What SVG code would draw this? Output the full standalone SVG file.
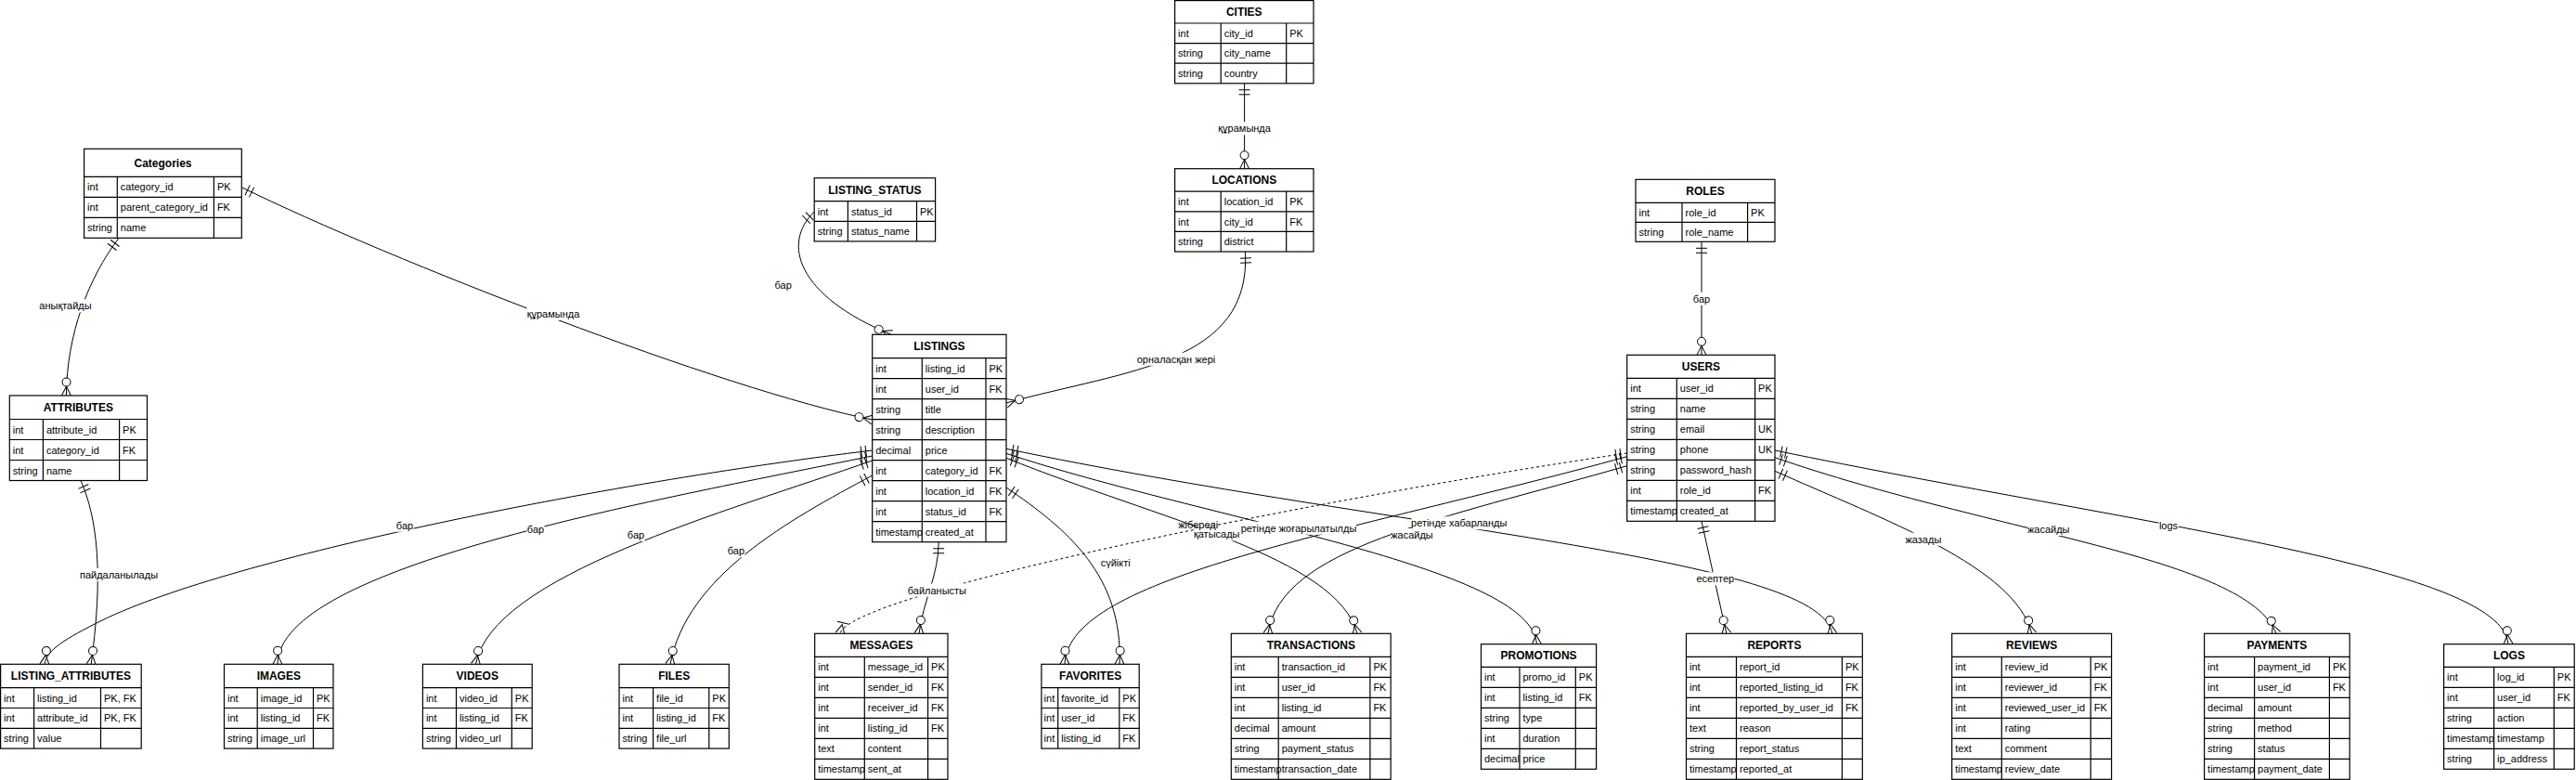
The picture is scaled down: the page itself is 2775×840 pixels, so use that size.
<svg xmlns="http://www.w3.org/2000/svg" width="2775" height="840" viewBox="0 0 2775 840">
<style>
.box{fill:#fff;stroke:#000;stroke-width:1.2}
.grid{fill:none;stroke:#000;stroke-width:1.2}
.hd{font-family:"Liberation Sans",Arial,sans-serif;font-size:12px;font-weight:bold;text-anchor:middle;fill:#000}
.c{font-family:"Liberation Sans",Arial,sans-serif;font-size:11px;fill:#000}
.ln{fill:none;stroke:#000;stroke-width:1;marker-start:url(#m1);marker-end:url(#mz)}
.dash{stroke-dasharray:3 3;marker-end:url(#mo)}
.lb{font-family:"Liberation Sans",Arial,sans-serif;font-size:11px;text-anchor:middle;fill:#000}
.bg{fill:#fff}
</style>
<defs>
<marker id="m1" markerUnits="userSpaceOnUse" markerWidth="30" markerHeight="30" refX="0" refY="0" orient="auto-start-reverse" overflow="visible"><path d="M-7,-6V6M-12,-6V6" fill="none" stroke="#000" stroke-width="1"/></marker>
<marker id="mz" markerUnits="userSpaceOnUse" markerWidth="30" markerHeight="30" refX="0" refY="0" orient="auto-start-reverse" overflow="visible"><path d="M0,-5L-10,0L0,5" fill="none" stroke="#000" stroke-width="1"/><circle cx="-14.5" cy="0" r="4.5" fill="#fff" stroke="#000" stroke-width="1"/></marker>
<marker id="mo" markerUnits="userSpaceOnUse" markerWidth="30" markerHeight="30" refX="0" refY="0" orient="auto-start-reverse" overflow="visible"><path d="M0,-5L-10,0L0,5M-12,-6V6" fill="none" stroke="#000" stroke-width="1"/></marker>
</defs>
<rect x="0" y="0" width="2775" height="840" fill="#fff"/>
<g id="connectors">
<path id="e1" class="ln" d="M128,256.3C95,300 72,360 71.4,426"/>
<path id="e2" class="ln" d="M260.3,201.7C420,280 780,420 939.7,452"/>
<path id="e3" class="ln" d="M877.2,228C842,262 858,318 960,360.3"/>
<path id="e4" class="ln" d="M1340.6,89.8V181.7"/>
<path id="e5" class="ln" d="M1341.5,271C1348,392 1215,398 1084,434"/>
<path id="e6" class="ln" d="M1833,260.3V382.3"/>
<path id="e7" class="ln" d="M87,517.5C115,580 104,670 98.2,715.3"/>
<path id="e8" class="ln" d="M939.7,485C650,520 250,600 110,668C70,688 50,700 48,715.3"/>
<path id="e9" class="ln" d="M939.7,491C700,540 300,610 299,715.3"/>
<path id="e10" class="ln" d="M939.7,496C780,552 530,620 512.5,715.3"/>
<path id="e11" class="ln" d="M939.7,512C850,560 740,620 722,715.3"/>
<path id="e12" class="ln" d="M1011.2,583.7C1011,620 995,645 990,682.3"/>
<path id="e13" class="ln dash" d="M1752.7,488C1400,540 915,640 905,682.3"/>
<path id="e14" class="ln" d="M1084,525C1150,570 1210,620 1206,715.3"/>
<path id="e15" class="ln" d="M1752.7,491.7C1450,575 1150,620 1147,715.3"/>
<path id="e16" class="ln" d="M1752.7,501.7C1550,560 1380,590 1366,682.3"/>
<path id="e17" class="ln" d="M1084,493.3C1250,560 1440,600 1462,682.3"/>
<path id="e18" class="ln" d="M1084,488.3C1300,560 1650,610 1655.4,693.7"/>
<path id="e19" class="ln" d="M1084,483.3C1500,570 1960,600 1973.7,682.3"/>
<path id="e20" class="ln" d="M1833,561.3L1859.8,682.3"/>
<path id="e21" class="ln" d="M1912,507.3C2030,560 2170,610 2188.8,682.3"/>
<path id="e22" class="ln" d="M1912,492.7C2150,575 2420,600 2452,682.3"/>
<path id="e23" class="ln" d="M1912,485C2300,565 2695,610 2702,693.7"/>
</g>
<g id="labels">
<rect class="bg" x="42" y="322.3" width="57" height="14"/><text class="lb" x="70.5" y="333.3">анықтайды</text>
<rect class="bg" x="567.5" y="331" width="57" height="14"/><text class="lb" x="596" y="342">құрамында</text>
<rect class="bg" x="834" y="299.7" width="19" height="14"/><text class="lb" x="843.7" y="310.7">бар</text>
<rect class="bg" x="1312" y="131.3" width="57" height="14"/><text class="lb" x="1340.6" y="142.3">құрамында</text>
<rect class="bg" x="1224" y="379.7" width="86" height="14"/><text class="lb" x="1267" y="390.7">орналасқан жері</text>
<rect class="bg" x="1823.5" y="314.7" width="19" height="14"/><text class="lb" x="1833" y="325.7">бар</text>
<rect class="bg" x="86" y="612" width="84" height="14"/><text class="lb" x="128" y="623">пайдаланылады</text>
<rect class="bg" x="426.5" y="558.7" width="19" height="14"/><text class="lb" x="436" y="569.7">бар</text>
<rect class="bg" x="567.5" y="562.7" width="19" height="14"/><text class="lb" x="577" y="573.7">бар</text>
<rect class="bg" x="675.5" y="569" width="19" height="14"/><text class="lb" x="685" y="580">бар</text>
<rect class="bg" x="783.4" y="586.3" width="19" height="14"/><text class="lb" x="792.9" y="597.3">бар</text>
<rect class="bg" x="977.5" y="628.5" width="64" height="14"/><text class="lb" x="1009.4" y="639.5">байланысты</text>
<rect class="bg" x="1286" y="568.3" width="50" height="14"/><text class="lb" x="1310.7" y="579.3">қатысады</text>
<rect class="bg" x="1337" y="561.7" width="124" height="14"/><text class="lb" x="1399" y="572.7">ретінде жоғарылатылды</text>
<rect class="bg" x="1185.5" y="598.7" width="33" height="14"/><text class="lb" x="1201.7" y="609.7">сүйікті</text>
<rect class="bg" x="1520.5" y="556.3" width="103" height="14"/><text class="lb" x="1571.7" y="567.3">ретінде хабарланды</text>
<rect class="bg" x="1498.5" y="569" width="45" height="14"/><text class="lb" x="1521" y="580">жасайды</text>
<rect class="bg" x="1827.5" y="616.3" width="41" height="14"/><text class="lb" x="1847.8" y="627.3">есептер</text>
<rect class="bg" x="2052" y="573.7" width="40" height="14"/><text class="lb" x="2071.9" y="584.7">жазады</text>
<rect class="bg" x="2184.2" y="563" width="45" height="14"/><text class="lb" x="2206.7" y="574">жасайды</text>
<rect class="bg" x="2325.5" y="558.7" width="21" height="14"/><text class="lb" x="2336" y="569.7">logs</text>
<text class="lb" x="1290.7" y="569">жібереді</text>
</g>
<g id="categories">
<rect class="box" x="90.6" y="160.3" width="169.7" height="96"/>
<path class="grid" d="M90.6,190.3H260.3M90.6,212.3H260.3M90.6,234.3H260.3M126.3,190.3V256.3M230.4,190.3V256.3"/>
<text class="hd" x="175.5" y="179.6">Categories</text>
<text class="c" x="94.1" y="205.3">int</text><text class="c" x="129.8" y="205.3">category_id</text><text class="c" x="233.9" y="205.3">PK</text>
<text class="c" x="94.1" y="227.3">int</text><text class="c" x="129.8" y="227.3">parent_category_id</text><text class="c" x="233.9" y="227.3">FK</text>
<text class="c" x="94.1" y="249.3">string</text><text class="c" x="129.8" y="249.3">name</text>
</g>
<g id="listing_status">
<rect class="box" x="877.2" y="191.7" width="130.4" height="68.2"/>
<path class="grid" d="M877.2,216.7H1007.6M877.2,238.3H1007.6M913.4,216.7V259.9M987.5,216.7V259.9"/>
<text class="hd" x="942.4" y="208.5">LISTING_STATUS</text>
<text class="c" x="880.7" y="231.5">int</text><text class="c" x="916.9" y="231.5">status_id</text><text class="c" x="991" y="231.5">PK</text>
<text class="c" x="880.7" y="253.1">string</text><text class="c" x="916.9" y="253.1">status_name</text>
</g>
<g id="cities">
<rect class="box" x="1265.6" y="0.6" width="149.4" height="89.2"/>
<path class="grid" d="M1265.6,25H1415M1265.6,46.6H1415M1265.6,68.2H1415M1315.2,25V89.8M1385.7,25V89.8"/>
<text class="hd" x="1340.3" y="17">CITIES</text>
<text class="c" x="1269.1" y="39.8">int</text><text class="c" x="1318.7" y="39.8">city_id</text><text class="c" x="1389.2" y="39.8">PK</text>
<text class="c" x="1269.1" y="61.4">string</text><text class="c" x="1318.7" y="61.4">city_name</text>
<text class="c" x="1269.1" y="83">string</text><text class="c" x="1318.7" y="83">country</text>
</g>
<g id="locations">
<rect class="box" x="1265.6" y="181.7" width="149.4" height="89.3"/>
<path class="grid" d="M1265.6,206.2H1415M1265.6,227.8H1415M1265.6,249.4H1415M1315.2,206.2V271M1385.7,206.2V271"/>
<text class="hd" x="1340.3" y="198.2">LOCATIONS</text>
<text class="c" x="1269.1" y="221">int</text><text class="c" x="1318.7" y="221">location_id</text><text class="c" x="1389.2" y="221">PK</text>
<text class="c" x="1269.1" y="242.6">int</text><text class="c" x="1318.7" y="242.6">city_id</text><text class="c" x="1389.2" y="242.6">FK</text>
<text class="c" x="1269.1" y="264.2">string</text><text class="c" x="1318.7" y="264.2">district</text>
</g>
<g id="roles">
<rect class="box" x="1762" y="193.3" width="150" height="67"/>
<path class="grid" d="M1762,218.3H1912M1762,239.3H1912M1812,218.3V260.3M1882.6,218.3V260.3"/>
<text class="hd" x="1837" y="210.1">ROLES</text>
<text class="c" x="1765.5" y="232.8">int</text><text class="c" x="1815.5" y="232.8">role_id</text><text class="c" x="1886.1" y="232.8">PK</text>
<text class="c" x="1765.5" y="253.8">string</text><text class="c" x="1815.5" y="253.8">role_name</text>
</g>
<g id="users">
<rect class="box" x="1752.7" y="382.3" width="159.3" height="179"/>
<path class="grid" d="M1752.7,407.3H1912M1752.7,429.3H1912M1752.7,451.3H1912M1752.7,473.3H1912M1752.7,495.3H1912M1752.7,517.3H1912M1752.7,539.3H1912M1806.3,407.3V561.3M1890.6,407.3V561.3"/>
<text class="hd" x="1832.4" y="399.1">USERS</text>
<text class="c" x="1756.2" y="422.3">int</text><text class="c" x="1809.8" y="422.3">user_id</text><text class="c" x="1894.1" y="422.3">PK</text>
<text class="c" x="1756.2" y="444.3">string</text><text class="c" x="1809.8" y="444.3">name</text>
<text class="c" x="1756.2" y="466.3">string</text><text class="c" x="1809.8" y="466.3">email</text><text class="c" x="1894.1" y="466.3">UK</text>
<text class="c" x="1756.2" y="488.3">string</text><text class="c" x="1809.8" y="488.3">phone</text><text class="c" x="1894.1" y="488.3">UK</text>
<text class="c" x="1756.2" y="510.3">string</text><text class="c" x="1809.8" y="510.3">password_hash</text>
<text class="c" x="1756.2" y="532.3">int</text><text class="c" x="1809.8" y="532.3">role_id</text><text class="c" x="1894.1" y="532.3">FK</text>
<text class="c" x="1756.2" y="554.3">timestamp</text><text class="c" x="1809.8" y="554.3">created_at</text>
</g>
<g id="listings">
<rect class="box" x="939.7" y="360.3" width="144.3" height="223.4"/>
<path class="grid" d="M939.7,385.7H1084M939.7,407.7H1084M939.7,429.7H1084M939.7,451.7H1084M939.7,473.7H1084M939.7,495.7H1084M939.7,517.7H1084M939.7,539.7H1084M939.7,561.7H1084M993.3,385.7V583.7M1062,385.7V583.7"/>
<text class="hd" x="1011.9" y="377.3">LISTINGS</text>
<text class="c" x="943.2" y="400.7">int</text><text class="c" x="996.8" y="400.7">listing_id</text><text class="c" x="1065.5" y="400.7">PK</text>
<text class="c" x="943.2" y="422.7">int</text><text class="c" x="996.8" y="422.7">user_id</text><text class="c" x="1065.5" y="422.7">FK</text>
<text class="c" x="943.2" y="444.7">string</text><text class="c" x="996.8" y="444.7">title</text>
<text class="c" x="943.2" y="466.7">string</text><text class="c" x="996.8" y="466.7">description</text>
<text class="c" x="943.2" y="488.7">decimal</text><text class="c" x="996.8" y="488.7">price</text>
<text class="c" x="943.2" y="510.7">int</text><text class="c" x="996.8" y="510.7">category_id</text><text class="c" x="1065.5" y="510.7">FK</text>
<text class="c" x="943.2" y="532.7">int</text><text class="c" x="996.8" y="532.7">location_id</text><text class="c" x="1065.5" y="532.7">FK</text>
<text class="c" x="943.2" y="554.7">int</text><text class="c" x="996.8" y="554.7">status_id</text><text class="c" x="1065.5" y="554.7">FK</text>
<text class="c" x="943.2" y="576.7">timestamp</text><text class="c" x="996.8" y="576.7">created_at</text>
</g>
<g id="attributes">
<rect class="box" x="10.3" y="426" width="148.2" height="91.5"/>
<path class="grid" d="M10.3,451.5H158.5M10.3,473.5H158.5M10.3,495.5H158.5M46.4,451.5V517.5M128.6,451.5V517.5"/>
<text class="hd" x="84.4" y="443">ATTRIBUTES</text>
<text class="c" x="13.8" y="466.5">int</text><text class="c" x="49.9" y="466.5">attribute_id</text><text class="c" x="132.1" y="466.5">PK</text>
<text class="c" x="13.8" y="488.5">int</text><text class="c" x="49.9" y="488.5">category_id</text><text class="c" x="132.1" y="488.5">FK</text>
<text class="c" x="13.8" y="510.5">string</text><text class="c" x="49.9" y="510.5">name</text>
</g>
<g id="listing_attributes">
<rect class="box" x="0.6" y="715.3" width="151.6" height="90.8"/>
<path class="grid" d="M0.6,740.7H152.2M0.6,762.5H152.2M0.6,784.3H152.2M36.6,740.7V806.1M108.5,740.7V806.1"/>
<text class="hd" x="76.4" y="732.3">LISTING_ATTRIBUTES</text>
<text class="c" x="4.1" y="755.6">int</text><text class="c" x="40.1" y="755.6">listing_id</text><text class="c" x="112" y="755.6">PK, FK</text>
<text class="c" x="4.1" y="777.4">int</text><text class="c" x="40.1" y="777.4">attribute_id</text><text class="c" x="112" y="777.4">PK, FK</text>
<text class="c" x="4.1" y="799.2">string</text><text class="c" x="40.1" y="799.2">value</text>
</g>
<g id="images">
<rect class="box" x="241.5" y="715.3" width="117.5" height="90.8"/>
<path class="grid" d="M241.5,740.7H359M241.5,762.5H359M241.5,784.3H359M277.2,740.7V806.1M337.5,740.7V806.1"/>
<text class="hd" x="300.3" y="732.3">IMAGES</text>
<text class="c" x="245" y="755.6">int</text><text class="c" x="280.7" y="755.6">image_id</text><text class="c" x="341" y="755.6">PK</text>
<text class="c" x="245" y="777.4">int</text><text class="c" x="280.7" y="777.4">listing_id</text><text class="c" x="341" y="777.4">FK</text>
<text class="c" x="245" y="799.2">string</text><text class="c" x="280.7" y="799.2">image_url</text>
</g>
<g id="videos">
<rect class="box" x="455.4" y="715.3" width="117.8" height="90.8"/>
<path class="grid" d="M455.4,740.7H573.2M455.4,762.5H573.2M455.4,784.3H573.2M491.5,740.7V806.1M551.3,740.7V806.1"/>
<text class="hd" x="514.3" y="732.3">VIDEOS</text>
<text class="c" x="458.9" y="755.6">int</text><text class="c" x="495" y="755.6">video_id</text><text class="c" x="554.8" y="755.6">PK</text>
<text class="c" x="458.9" y="777.4">int</text><text class="c" x="495" y="777.4">listing_id</text><text class="c" x="554.8" y="777.4">FK</text>
<text class="c" x="458.9" y="799.2">string</text><text class="c" x="495" y="799.2">video_url</text>
</g>
<g id="files">
<rect class="box" x="667" y="715.3" width="118.3" height="90.8"/>
<path class="grid" d="M667,740.7H785.3M667,762.5H785.3M667,784.3H785.3M703.6,740.7V806.1M763.8,740.7V806.1"/>
<text class="hd" x="726.2" y="732.3">FILES</text>
<text class="c" x="670.5" y="755.6">int</text><text class="c" x="707.1" y="755.6">file_id</text><text class="c" x="767.3" y="755.6">PK</text>
<text class="c" x="670.5" y="777.4">int</text><text class="c" x="707.1" y="777.4">listing_id</text><text class="c" x="767.3" y="777.4">FK</text>
<text class="c" x="670.5" y="799.2">string</text><text class="c" x="707.1" y="799.2">file_url</text>
</g>
<g id="favorites">
<rect class="box" x="1121.9" y="715.3" width="105.3" height="90.8"/>
<path class="grid" d="M1121.9,740.7H1227.2M1121.9,762.5H1227.2M1121.9,784.3H1227.2M1139.7,740.7V806.1M1205.8,740.7V806.1"/>
<text class="hd" x="1174.6" y="732.3">FAVORITES</text>
<text class="c" x="1124.6" y="755.6">int</text><text class="c" x="1143.2" y="755.6">favorite_id</text><text class="c" x="1209.3" y="755.6">PK</text>
<text class="c" x="1124.6" y="777.4">int</text><text class="c" x="1143.2" y="777.4">user_id</text><text class="c" x="1209.3" y="777.4">FK</text>
<text class="c" x="1124.6" y="799.2">int</text><text class="c" x="1143.2" y="799.2">listing_id</text><text class="c" x="1209.3" y="799.2">FK</text>
</g>
<g id="messages">
<rect class="box" x="877.7" y="682.3" width="143.3" height="157"/>
<path class="grid" d="M877.7,707.3H1021M877.7,729.3H1021M877.7,751.3H1021M877.7,773.3H1021M877.7,795.3H1021M877.7,817.3H1021M931.3,707.3V839.3M999.6,707.3V839.3"/>
<text class="hd" x="949.4" y="699.1">MESSAGES</text>
<text class="c" x="881.2" y="722.3">int</text><text class="c" x="934.8" y="722.3">message_id</text><text class="c" x="1003.1" y="722.3">PK</text>
<text class="c" x="881.2" y="744.3">int</text><text class="c" x="934.8" y="744.3">sender_id</text><text class="c" x="1003.1" y="744.3">FK</text>
<text class="c" x="881.2" y="766.3">int</text><text class="c" x="934.8" y="766.3">receiver_id</text><text class="c" x="1003.1" y="766.3">FK</text>
<text class="c" x="881.2" y="788.3">int</text><text class="c" x="934.8" y="788.3">listing_id</text><text class="c" x="1003.1" y="788.3">FK</text>
<text class="c" x="881.2" y="810.3">text</text><text class="c" x="934.8" y="810.3">content</text>
<text class="c" x="881.2" y="832.3">timestamp</text><text class="c" x="934.8" y="832.3">sent_at</text>
</g>
<g id="transactions">
<rect class="box" x="1326.3" y="682.3" width="171.9" height="157"/>
<path class="grid" d="M1326.3,707.3H1498.2M1326.3,729.3H1498.2M1326.3,751.3H1498.2M1326.3,773.3H1498.2M1326.3,795.3H1498.2M1326.3,817.3H1498.2M1377.2,707.3V839.3M1475.9,707.3V839.3"/>
<text class="hd" x="1412.3" y="699.1">TRANSACTIONS</text>
<text class="c" x="1329.8" y="722.3">int</text><text class="c" x="1380.7" y="722.3">transaction_id</text><text class="c" x="1479.4" y="722.3">PK</text>
<text class="c" x="1329.8" y="744.3">int</text><text class="c" x="1380.7" y="744.3">user_id</text><text class="c" x="1479.4" y="744.3">FK</text>
<text class="c" x="1329.8" y="766.3">int</text><text class="c" x="1380.7" y="766.3">listing_id</text><text class="c" x="1479.4" y="766.3">FK</text>
<text class="c" x="1329.8" y="788.3">decimal</text><text class="c" x="1380.7" y="788.3">amount</text>
<text class="c" x="1329.8" y="810.3">string</text><text class="c" x="1380.7" y="810.3">payment_status</text>
<text class="c" x="1329.8" y="832.3">timestamp</text><text class="c" x="1380.7" y="832.3">transaction_date</text>
</g>
<g id="promotions">
<rect class="box" x="1595.5" y="693.7" width="124.1" height="134.6"/>
<path class="grid" d="M1595.5,718.3H1719.6M1595.5,740.3H1719.6M1595.5,762.3H1719.6M1595.5,784.3H1719.6M1595.5,806.3H1719.6M1637,718.3V828.3M1697.3,718.3V828.3"/>
<text class="hd" x="1657.6" y="710.3">PROMOTIONS</text>
<text class="c" x="1599" y="733.3">int</text><text class="c" x="1640.5" y="733.3">promo_id</text><text class="c" x="1700.8" y="733.3">PK</text>
<text class="c" x="1599" y="755.3">int</text><text class="c" x="1640.5" y="755.3">listing_id</text><text class="c" x="1700.8" y="755.3">FK</text>
<text class="c" x="1599" y="777.3">string</text><text class="c" x="1640.5" y="777.3">type</text>
<text class="c" x="1599" y="799.3">int</text><text class="c" x="1640.5" y="799.3">duration</text>
<text class="c" x="1599" y="821.3">decimal</text><text class="c" x="1640.5" y="821.3">price</text>
</g>
<g id="reports">
<rect class="box" x="1816.5" y="682.3" width="189.8" height="157"/>
<path class="grid" d="M1816.5,707.3H2006.3M1816.5,729.3H2006.3M1816.5,751.3H2006.3M1816.5,773.3H2006.3M1816.5,795.3H2006.3M1816.5,817.3H2006.3M1870.5,707.3V839.3M1984.4,707.3V839.3"/>
<text class="hd" x="1911.4" y="699.1">REPORTS</text>
<text class="c" x="1820" y="722.3">int</text><text class="c" x="1874" y="722.3">report_id</text><text class="c" x="1987.9" y="722.3">PK</text>
<text class="c" x="1820" y="744.3">int</text><text class="c" x="1874" y="744.3">reported_listing_id</text><text class="c" x="1987.9" y="744.3">FK</text>
<text class="c" x="1820" y="766.3">int</text><text class="c" x="1874" y="766.3">reported_by_user_id</text><text class="c" x="1987.9" y="766.3">FK</text>
<text class="c" x="1820" y="788.3">text</text><text class="c" x="1874" y="788.3">reason</text>
<text class="c" x="1820" y="810.3">string</text><text class="c" x="1874" y="810.3">report_status</text>
<text class="c" x="1820" y="832.3">timestamp</text><text class="c" x="1874" y="832.3">reported_at</text>
</g>
<g id="reviews">
<rect class="box" x="2102.7" y="682.3" width="171.9" height="157"/>
<path class="grid" d="M2102.7,707.3H2274.6M2102.7,729.3H2274.6M2102.7,751.3H2274.6M2102.7,773.3H2274.6M2102.7,795.3H2274.6M2102.7,817.3H2274.6M2156.3,707.3V839.3M2252.2,707.3V839.3"/>
<text class="hd" x="2188.7" y="699.1">REVIEWS</text>
<text class="c" x="2106.2" y="722.3">int</text><text class="c" x="2159.8" y="722.3">review_id</text><text class="c" x="2255.7" y="722.3">PK</text>
<text class="c" x="2106.2" y="744.3">int</text><text class="c" x="2159.8" y="744.3">reviewer_id</text><text class="c" x="2255.7" y="744.3">FK</text>
<text class="c" x="2106.2" y="766.3">int</text><text class="c" x="2159.8" y="766.3">reviewed_user_id</text><text class="c" x="2255.7" y="766.3">FK</text>
<text class="c" x="2106.2" y="788.3">int</text><text class="c" x="2159.8" y="788.3">rating</text>
<text class="c" x="2106.2" y="810.3">text</text><text class="c" x="2159.8" y="810.3">comment</text>
<text class="c" x="2106.2" y="832.3">timestamp</text><text class="c" x="2159.8" y="832.3">review_date</text>
</g>
<g id="payments">
<rect class="box" x="2374.6" y="682.3" width="156.6" height="157"/>
<path class="grid" d="M2374.6,707.3H2531.2M2374.6,729.3H2531.2M2374.6,751.3H2531.2M2374.6,773.3H2531.2M2374.6,795.3H2531.2M2374.6,817.3H2531.2M2428.6,707.3V839.3M2509.4,707.3V839.3"/>
<text class="hd" x="2452.9" y="699.1">PAYMENTS</text>
<text class="c" x="2378.1" y="722.3">int</text><text class="c" x="2432.1" y="722.3">payment_id</text><text class="c" x="2512.9" y="722.3">PK</text>
<text class="c" x="2378.1" y="744.3">int</text><text class="c" x="2432.1" y="744.3">user_id</text><text class="c" x="2512.9" y="744.3">FK</text>
<text class="c" x="2378.1" y="766.3">decimal</text><text class="c" x="2432.1" y="766.3">amount</text>
<text class="c" x="2378.1" y="788.3">string</text><text class="c" x="2432.1" y="788.3">method</text>
<text class="c" x="2378.1" y="810.3">string</text><text class="c" x="2432.1" y="810.3">status</text>
<text class="c" x="2378.1" y="832.3">timestamp</text><text class="c" x="2432.1" y="832.3">payment_date</text>
</g>
<g id="logs">
<rect class="box" x="2632.6" y="693.7" width="140.6" height="134.6"/>
<path class="grid" d="M2632.6,718.3H2773.2M2632.6,740.3H2773.2M2632.6,762.3H2773.2M2632.6,784.3H2773.2M2632.6,806.3H2773.2M2686.6,718.3V828.3M2751.3,718.3V828.3"/>
<text class="hd" x="2702.9" y="710.3">LOGS</text>
<text class="c" x="2636.1" y="733.3">int</text><text class="c" x="2690.1" y="733.3">log_id</text><text class="c" x="2754.8" y="733.3">PK</text>
<text class="c" x="2636.1" y="755.3">int</text><text class="c" x="2690.1" y="755.3">user_id</text><text class="c" x="2754.8" y="755.3">FK</text>
<text class="c" x="2636.1" y="777.3">string</text><text class="c" x="2690.1" y="777.3">action</text>
<text class="c" x="2636.1" y="799.3">timestamp</text><text class="c" x="2690.1" y="799.3">timestamp</text>
<text class="c" x="2636.1" y="821.3">string</text><text class="c" x="2690.1" y="821.3">ip_address</text>
</g>
</svg>
